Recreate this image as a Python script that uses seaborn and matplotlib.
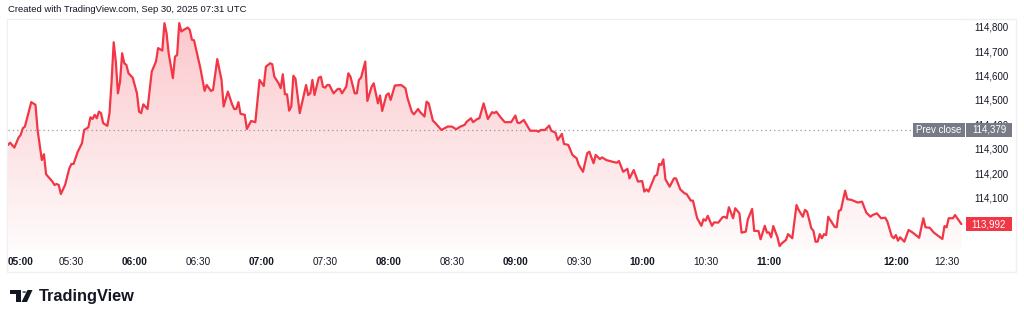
import numpy as np
import pandas as pd
import matplotlib
matplotlib.use("Agg")
import matplotlib.pyplot as plt
import matplotlib.transforms as mtransforms
from matplotlib.patches import Rectangle, Polygon, Circle
import seaborn as sns

# ---------------- data (minutes after 05:00, price) ----------------
minutes = [0, 1, 3, 5, 6, 7, 8, 11, 13, 14, 16, 17, 18, 21, 22, 23, 24, 25, 27, 29,
           30, 31, 33, 35, 36, 38, 39, 40, 41, 42, 43, 44, 45, 47, 48, 49, 50, 51, 52, 53,
           54, 55, 56, 57, 59, 61, 62, 63, 64, 66, 68, 70, 71, 73, 74, 75, 76, 78, 79, 80,
           81, 82, 83, 85, 86, 87, 88, 91, 93, 94, 96, 97, 99, 101, 102, 104, 106, 107, 108, 109,
           110, 112, 113, 115, 117, 119, 121, 122, 124, 125, 126, 128, 129, 130, 131, 132, 133, 134, 135, 136,
           138, 141, 142, 143, 144, 145, 147, 148, 149, 150, 151, 152, 154, 156, 157, 158, 160, 161, 162, 164,
           165, 166, 167, 169, 170, 172, 173, 175, 176, 177, 179, 180, 181, 183, 186, 188, 189, 191, 192, 194,
           195, 197, 198, 199, 201, 202, 205, 208, 210, 212, 214, 216, 217, 219, 220, 222, 223, 225, 227, 229,
           230, 231, 233, 235, 238, 240, 241, 242, 244, 247, 250, 251, 252, 254, 256, 257, 259, 260, 262, 263,
           265, 267, 269, 270, 272, 274, 275, 277, 278, 280, 281, 283, 286, 288, 289, 291, 293, 294, 296, 298,
           300, 301, 302, 303, 306, 307, 308, 309, 310, 311, 313, 315, 316, 318, 320, 321, 323, 324, 326, 328,
           329, 330, 331, 333, 334, 336, 338, 339, 340, 341, 343, 344, 346, 347, 349, 350, 352, 353, 355, 356,
           358, 359, 360, 361, 362, 364, 365, 366, 368, 369, 371, 373, 374, 376, 377, 378, 380, 381, 382, 383,
           384, 385, 386, 387, 388, 390, 391, 392, 393, 394, 396, 397, 399, 402, 404, 406, 408, 409, 411, 413,
           415, 416, 418, 419, 420, 421, 422, 424, 426, 428, 431, 433, 434, 436, 438, 442, 443, 444, 445, 447,
           448, 451]
prices = [114316, 114325, 114305, 114346, 114357, 114384, 114391, 114491, 114480, 114377, 114254, 114278, 114196, 114166, 114152, 114156, 114152, 114115, 114152, 114220,
          114238, 114238, 114288, 114323, 114377, 114388, 114429, 114422, 114439, 114425, 114452, 114446, 114405, 114394, 114445, 114575, 114736, 114657, 114527, 114575,
          114691, 114650, 114643, 114609, 114591, 114527, 114452, 114446, 114482, 114463, 114616, 114657, 114712, 114702, 114814, 114773, 114691, 114589, 114677, 114684,
          114814, 114780, 114786, 114796, 114786, 114746, 114744, 114630, 114537, 114561, 114537, 114541, 114667, 114582, 114473, 114534, 114482, 114463, 114463, 114491,
          114443, 114439, 114381, 114414, 114409, 114582, 114557, 114636, 114650, 114646, 114595, 114568, 114548, 114605, 114523, 114523, 114456, 114473, 114599, 114586,
          114446, 114561, 114520, 114527, 114582, 114520, 114591, 114595, 114554, 114550, 114561, 114561, 114527, 114545, 114545, 114527, 114554, 114609, 114595, 114527,
          114527, 114582, 114591, 114657, 114496, 114554, 114568, 114486, 114518, 114455, 114520, 114527, 114500, 114559, 114561, 114548, 114507, 114452, 114441, 114463,
          114450, 114432, 114493, 114486, 114415, 114407, 114377, 114391, 114391, 114380, 114391, 114398, 114411, 114425, 114409, 114422, 114425, 114486, 114422, 114450,
          114446, 114452, 114429, 114409, 114409, 114436, 114407, 114405, 114418, 114374, 114374, 114370, 114377, 114377, 114395, 114374, 114366, 114336, 114361, 114320,
          114316, 114275, 114261, 114234, 114206, 114282, 114288, 114241, 114275, 114258, 114265, 114254, 114247, 114243, 114250, 114206, 114218, 114179, 114213, 114166,
          114168, 114125, 114134, 114125, 114189, 114193, 114238, 114234, 114257, 114175, 114145, 114179, 114179, 114134, 114118, 114115, 114088, 114088, 114016, 113985,
          114012, 114006, 114026, 113985, 113999, 113998, 114020, 114022, 114016, 114061, 114016, 114057, 114036, 113957, 113961, 114012, 114054, 113964, 113964, 113930,
          113985, 113957, 113958, 113938, 113984, 113938, 113902, 113913, 113927, 113951, 113934, 114070, 114050, 114022, 114050, 114043, 113975, 113964, 113920, 113920,
          113951, 113934, 113951, 113947, 114022, 113995, 113981, 113979, 114046, 114050, 114129, 114094, 114091, 114080, 114084, 114039, 114022, 114029, 114036, 114016,
          114018, 114002, 113943, 113934, 113947, 113924, 113938, 113920, 113968, 113957, 113936, 114016, 113979, 113977, 113957, 113931, 113984, 113979, 114016, 114016,
          114029, 113992]

x_tick_minutes = [0, 30, 60, 90, 120, 150, 180, 210, 240, 270, 300, 330, 360, 420, 450]
x_tick_labels = ["05:00", "05:30", "06:00", "06:30", "07:00", "07:30", "08:00", "08:30",
                 "09:00", "09:30", "10:00", "10:30", "11:00", "12:00", "12:30"]
y_ticks = [114100, 114200, 114300, 114400, 114500, 114600, 114700, 114800]
y_tick_labels = ["114,100", "114,200", "114,300", "114,400", "114,500", "114,600", "114,700", "114,800"]
prev_close = 114379
last_price = 113992
title_text = "Created with TradingView.com, Sep 30, 2025 07:31 UTC"

df = pd.DataFrame({"minute": minutes, "price": prices})

# ---------------- style ----------------
sns.set_theme(style="white")
plt.rcParams["font.family"] = ["Liberation Sans", "DejaVu Sans"]
RED = "#F23645"
TXT = "#131722"
GRAY = "#787B86"

W, H = 1024, 319
fig = plt.figure(figsize=(W / 100, H / 100), dpi=100)
fig.patch.set_facecolor("white")


def fx(px):
    return px / W


def fy(py):
    return 1 - py / H


ax_l, ax_r, ax_t, ax_b = 8, 965, 20, 250
ax = fig.add_axes([fx(ax_l), fy(ax_b), fx(ax_r - ax_l), (ax_b - ax_t) / H])
ax.set_facecolor("white")

ylo, yhi = 113886, 114827
xlo, xhi = 0, 452.7

# gradient fill under the line
xs = df["minute"].to_numpy()
ys = df["price"].to_numpy()
verts = [(xs[0], ylo)] + list(zip(xs, ys)) + [(xs[-1], ylo)]
clip = Polygon(verts, closed=True, facecolor="none", edgecolor="none")
ax.add_patch(clip)
n = 256
img = np.zeros((n, 1, 4))
img[:, 0, 0] = 242 / 255
img[:, 0, 1] = 54 / 255
img[:, 0, 2] = 69 / 255
img[:, 0, 3] = np.linspace(0.28, 0.02, n)
im = ax.imshow(img, aspect="auto", extent=[xs[0], xs[-1], ylo, yhi], origin="upper",
               zorder=1, interpolation="bilinear")
im.set_clip_path(clip)

sns.lineplot(data=df, x="minute", y="price", ax=ax, color=RED, linewidth=1.6, zorder=3)

# previous close dotted line
ax.axhline(prev_close, xmin=0, xmax=(913 - ax_l) / (ax_r - ax_l), color="#9598A1",
           linestyle=(0, (1, 2.5)), linewidth=0.9, zorder=2)

ax.set_xlim(xlo, xhi)
ax.set_ylim(ylo, yhi)
for s in ax.spines.values():
    s.set_visible(False)
ax.set_xlabel("")
ax.set_ylabel("")

ax.set_xticks(x_tick_minutes)
ax.set_xticklabels(x_tick_labels)
for lab in ax.get_xticklabels():
    lab.set_fontsize(7.2)
    lab.set_color(TXT)
    if lab.get_text().endswith(":00"):
        lab.set_fontweight("bold")
xl = ax.get_xticklabels()
xl[0].set_ha("left")
xl[-1].set_ha("right")
ax.tick_params(axis="x", length=0, pad=5)

ax.yaxis.tick_right()
ax.set_yticks(y_ticks)
ax.set_yticklabels(y_tick_labels)
ax.tick_params(axis="y", length=0, pad=6.5, labelsize=7.0, labelcolor=TXT)
ax.grid(False)

# price labels on the right (x in figure px, y in data)
blend = mtransforms.blended_transform_factory(fig.transFigure, ax.transData)
unit_per_px = (yhi - ylo) / (ax_b - ax_t)
box_h = 14 * unit_per_px


def label_text(xc, yval, text):
    return fig.text(fx(xc), yval, text, transform=blend, ha="center", va="center",
                    color="white", fontsize=7.0, zorder=11)


for (x0, x1, yv, col, txt) in [(913, 965, prev_close, GRAY, "Prev close"),
                               (966, 1012, prev_close, GRAY, "114,379"),
                               (966, 1012, last_price, RED, "113,992")]:
    r = Rectangle((fx(x0), yv - box_h / 2), fx(x1 - x0), box_h, transform=blend,
                  facecolor=col, edgecolor="none", zorder=10, clip_on=False)
    fig.add_artist(r)
    label_text((x0 + x1) / 2, yv, txt)

# chart frame
fig.add_artist(Rectangle((fx(7), fy(272)), fx(1016 - 7), (272 - 19) / H,
                         transform=fig.transFigure, facecolor="none",
                         edgecolor="#EDEFF3", linewidth=1.0, zorder=0))

# header text
fig.text(fx(8), fy(10), title_text, ha="left", va="center", fontsize=6.8, color=TXT)

# TradingView logo
logo_col = "#131722"
fig.add_artist(Rectangle((fx(10), fy(294)), fx(10.5), 4 / H, transform=fig.transFigure,
                         facecolor=logo_col, edgecolor="none"))
fig.add_artist(Rectangle((fx(16), fy(302)), fx(4.5), 12 / H, transform=fig.transFigure,
                         facecolor=logo_col, edgecolor="none"))
fig.add_artist(Circle((fx(24.3), fy(292)), 2.1 / W, transform=fig.transFigure,
                      facecolor=logo_col, edgecolor="none"))
fig.add_artist(Polygon([(fx(27.5), fy(290)), (fx(32.5), fy(290)), (fx(27), fy(302)), (fx(21.5), fy(302))],
                       closed=True, transform=fig.transFigure, facecolor=logo_col, edgecolor="none"))
fig.text(fx(39), fy(296), "TradingView", ha="left", va="center", fontsize=11.8,
         fontweight="bold", color=logo_col)

fig.savefig("out.png", dpi=100, facecolor="white")
